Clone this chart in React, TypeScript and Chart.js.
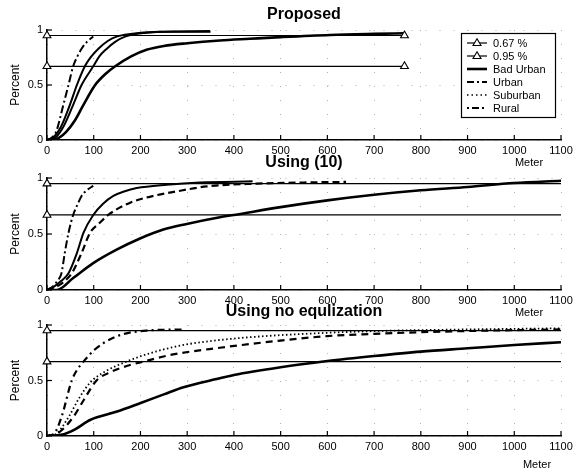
import React, { useEffect, useRef } from "react";
import { Chart, registerables } from "chart.js";

Chart.register(...registerables);

const FONT = "'Liberation Sans', Arial, Helvetica, sans-serif";

// ---------- text / ticks ----------
const X_TICKS = [0, 100, 200, 300, 400, 500, 600, 700, 800, 900, 1000, 1100];
const Y_TICKS = [0, 0.5, 1];
const X_LABEL = "Meter";
const Y_LABEL = "Percent";
const SERIES_NAMES = ["0.67 %", "0.95 %", "Bad Urban", "Urban", "Suburban", "Rural"];
const PANEL_TITLES = ["Proposed", "Using (10)", "Using no equlization"];

// ---------- reference levels ----------
const LEVELS = [0.67, 0.95];
const LEVEL_END_M = [765, 1100, 1100];

// ---------- Proposed ----------
const P_BAD_URBAN_M = [0, 20, 40, 60, 78, 103, 125, 146, 180, 213, 250, 300, 370, 434, 500, 606, 700, 765];
const P_BAD_URBAN_P = [0, 0.01, 0.07, 0.18, 0.32, 0.5, 0.6, 0.67, 0.76, 0.82, 0.855, 0.88, 0.905, 0.92, 0.935, 0.955, 0.965, 0.97];
const P_URBAN_M = [0, 20, 35, 56, 74, 99, 112, 128, 145, 167, 213, 260, 350];
const P_URBAN_P = [0, 0.03, 0.12, 0.32, 0.5, 0.67, 0.76, 0.83, 0.89, 0.94, 0.975, 0.985, 0.985];
const P_SUBURBAN_M = [0, 15, 30, 49, 64, 81, 95, 110, 130, 149, 200, 250, 349];
const P_SUBURBAN_P = [0, 0.03, 0.12, 0.32, 0.5, 0.67, 0.76, 0.83, 0.9, 0.94, 0.975, 0.985, 0.99];
const P_RURAL_M = [0, 10, 20, 35, 46, 56, 65, 74, 85, 99];
const P_RURAL_P = [0, 0.02, 0.08, 0.32, 0.5, 0.67, 0.76, 0.83, 0.89, 0.94];

// ---------- Using (10) ----------
const U_BAD_URBAN_M = [0, 21, 56, 99, 149, 199, 249, 299, 370, 400, 500, 600, 700, 800, 900, 1000, 1100];
const U_BAD_URBAN_P = [0, 0, 0.107, 0.24, 0.36, 0.46, 0.54, 0.59, 0.65, 0.67, 0.74, 0.8, 0.85, 0.89, 0.92, 0.955, 0.975];
const U_URBAN_M = [0, 20, 35, 53, 74, 92, 113, 131, 178, 228, 277, 342, 450, 550, 640];
const U_URBAN_P = [0, 0.03, 0.07, 0.15, 0.33, 0.51, 0.6, 0.67, 0.78, 0.84, 0.88, 0.925, 0.95, 0.96, 0.965];
const U_SUBURBAN_M = [0, 15, 30, 46, 64, 78, 99, 120, 142, 165, 192, 256, 327, 440];
const U_SUBURBAN_P = [0, 0.03, 0.08, 0.15, 0.33, 0.51, 0.67, 0.77, 0.84, 0.88, 0.91, 0.94, 0.96, 0.97];
const U_RURAL_M = [0, 12, 22, 31, 38, 46, 56, 65, 74, 85, 99];
const U_RURAL_P = [0, 0.03, 0.08, 0.15, 0.33, 0.51, 0.67, 0.76, 0.84, 0.89, 0.93];

// ---------- Using no equlization ----------
const N_BAD_URBAN_M = [0, 30, 60, 92, 150, 199, 250, 292, 370, 400, 500, 600, 700, 800, 900, 1000, 1100];
const N_BAD_URBAN_P = [0, 0.01, 0.06, 0.144, 0.22, 0.295, 0.375, 0.44, 0.52, 0.55, 0.62, 0.675, 0.72, 0.76, 0.79, 0.82, 0.845];
const N_URBAN_M = [0, 25, 56, 78, 106, 138, 170, 206, 270, 370, 500, 600, 700, 800, 950, 1100];
const N_URBAN_P = [0, 0.03, 0.17, 0.32, 0.5, 0.58, 0.63, 0.67, 0.735, 0.795, 0.86, 0.9, 0.92, 0.935, 0.95, 0.96];
const N_SUBURBAN_M = [0, 20, 46, 70, 92, 124, 170, 220, 292, 370, 450, 550, 700, 900, 1100];
const N_SUBURBAN_P = [0, 0.02, 0.17, 0.35, 0.48, 0.58, 0.67, 0.745, 0.82, 0.865, 0.895, 0.92, 0.945, 0.96, 0.97];
const N_RURAL_M = [0, 15, 31, 53, 65, 78, 100, 120, 145, 170, 213, 292];
const N_RURAL_P = [0, 0.02, 0.17, 0.5, 0.6, 0.67, 0.77, 0.835, 0.89, 0.925, 0.95, 0.96];

// ---------- panel assembly ----------
const PANEL_CURVES = [
  [[P_BAD_URBAN_M, P_BAD_URBAN_P], [P_URBAN_M, P_URBAN_P], [P_SUBURBAN_M, P_SUBURBAN_P], [P_RURAL_M, P_RURAL_P]],
  [[U_BAD_URBAN_M, U_BAD_URBAN_P], [U_URBAN_M, U_URBAN_P], [U_SUBURBAN_M, U_SUBURBAN_P], [U_RURAL_M, U_RURAL_P]],
  [[N_BAD_URBAN_M, N_BAD_URBAN_P], [N_URBAN_M, N_URBAN_P], [N_SUBURBAN_M, N_SUBURBAN_P], [N_RURAL_M, N_RURAL_P]],
];

// layout (pixels)
const PANEL_LAYOUT = [
  { top: 30, bottom: 140, titleY: 15, meterX: 529, meterY: 163, endMarker: true },
  { top: 178, bottom: 290, titleY: 163, meterX: 529, meterY: 313, endMarker: false },
  { top: 325, bottom: 436, titleY: 312, meterX: 537, meterY: 465, endMarker: false },
];
const PLOT_LEFT = 47;
const PLOT_RIGHT = 561;
const W = 582;
const H = 472;
const XAXIS_H = 20;

// line styles: [width, dash] for Bad Urban, Urban, Suburban, Rural
const LEGEND_STYLE = [
  [2.6, []],
  [2, [7, 3, 2, 3]],
  [1.6, [1.5, 3]],
  [2, [2, 3, 7, 3]],
];
const PANEL_STYLE = [
  [[2.6, []], [2, []], [2, []], [2, [8, 3, 2, 3]]],
  [[2.6, []], [2.2, [7, 4]], [2, []], [2, [8, 3, 2, 3]]],
  [[2.6, []], [2.2, [7, 5]], [1.8, [1.5, 2.5]], [2.2, [7, 4, 2, 4]]],
];

function buildDatasets(i: number) {
  const layout = PANEL_LAYOUT[i];
  const ds: any[] = LEVELS.map((lv, k) => ({
    label: SERIES_NAMES[k],
    data: [
      { x: 0, y: lv },
      { x: LEVEL_END_M[i], y: lv },
    ],
    borderColor: "#000",
    borderWidth: 1.2,
    pointStyle: "triangle",
    pointRadius: layout.endMarker ? [4.5, 4.5] : [4.5, 0],
    pointBackgroundColor: "#fff",
    pointBorderColor: "#000",
    pointBorderWidth: 1.1,
    clip: false,
  }));
  PANEL_CURVES[i].forEach(([xs, ys], k) => {
    const [w, dash] = PANEL_STYLE[i][k];
    ds.push({
      label: SERIES_NAMES[k + 2],
      data: xs.map((x, j) => ({ x, y: ys[j] })),
      borderColor: "#000",
      borderWidth: w,
      borderDash: dash,
      pointRadius: 0,
      cubicInterpolationMode: "monotone",
      fill: false,
    });
  });
  return ds;
}

function drawTriangle(ctx: CanvasRenderingContext2D, x: number, y: number, r: number) {
  ctx.beginPath();
  ctx.moveTo(x, y - r);
  ctx.lineTo(x + r * 0.95, y + r * 0.6);
  ctx.lineTo(x - r * 0.95, y + r * 0.6);
  ctx.closePath();
  ctx.fillStyle = "#fff";
  ctx.fill();
  ctx.stroke();
}

function decorPlugin(i: number) {
  return {
    id: "decor" + i,
    afterDraw(chart: any) {
      const { ctx, chartArea, scales } = chart;
      const layout = PANEL_LAYOUT[i];
      ctx.save();
      ctx.setLineDash([]);
      ctx.strokeStyle = "#000";
      ctx.lineWidth = 1.2;
      // inward tick marks
      X_TICKS.forEach((v) => {
        const x = scales.x.getPixelForValue(v);
        ctx.beginPath();
        ctx.moveTo(x, chartArea.bottom);
        ctx.lineTo(x, chartArea.bottom - 5);
        ctx.stroke();
      });
      Y_TICKS.forEach((v) => {
        const y = scales.y.getPixelForValue(v);
        ctx.beginPath();
        ctx.moveTo(chartArea.left, y);
        ctx.lineTo(chartArea.left + 5, y);
        ctx.stroke();
      });
      ctx.fillStyle = "#000";
      // title
      ctx.font = `bold 16px ${FONT}`;
      ctx.textAlign = "center";
      ctx.textBaseline = "middle";
      ctx.fillText(PANEL_TITLES[i], (chartArea.left + chartArea.right) / 2, layout.titleY);
      // x label
      ctx.font = `11px ${FONT}`;
      ctx.fillText(X_LABEL, layout.meterX, layout.meterY);
      // y label
      ctx.save();
      ctx.translate(15.5, (chartArea.top + chartArea.bottom) / 2);
      ctx.rotate(-Math.PI / 2);
      ctx.font = `12px ${FONT}`;
      ctx.fillText(Y_LABEL, 0, 0);
      ctx.restore();

      if (i === 0) {
        // legend box
        const bx = 461, by = 33, bw = 94, bh = 84;
        ctx.fillStyle = "#fff";
        ctx.fillRect(bx, by, bw, bh);
        ctx.strokeStyle = "#000";
        ctx.lineWidth = 1.2;
        ctx.strokeRect(bx + 0.5, by + 0.5, bw, bh);
        const rows = [43, 56, 69, 82, 95, 108];
        SERIES_NAMES.forEach((name, k) => {
          const y = rows[k];
          ctx.save();
          if (k < 2) {
            ctx.lineWidth = 1.2;
            ctx.setLineDash([]);
            ctx.beginPath();
            ctx.moveTo(467, y);
            ctx.lineTo(487, y);
            ctx.stroke();
            ctx.lineWidth = 1.1;
            drawTriangle(ctx, 477, y, 4.2);
          } else {
            const [w, dash] = LEGEND_STYLE[k - 2];
            ctx.lineWidth = w as number;
            ctx.setLineDash(dash as number[]);
            ctx.beginPath();
            ctx.moveTo(467, y);
            ctx.lineTo(487, y);
            ctx.stroke();
          }
          ctx.restore();
          ctx.fillStyle = "#000";
          ctx.font = `11px ${FONT}`;
          ctx.textAlign = "left";
          ctx.textBaseline = "middle";
          ctx.fillText(name, 493, y + 0.5);
        });
      }
      ctx.restore();
    },
  };
}

function buildConfig(i: number): any {
  const layout = PANEL_LAYOUT[i];
  return {
    type: "line",
    data: { datasets: buildDatasets(i) },
    plugins: [decorPlugin(i)],
    options: {
      responsive: false,
      animation: false,
      events: [],
      layout: {
        padding: {
          left: 0,
          right: W - PLOT_RIGHT,
          top: layout.top,
          bottom: H - layout.bottom - XAXIS_H,
        },
      },
      plugins: {
        legend: { display: false },
        title: { display: false },
        tooltip: { enabled: false },
      },
      scales: {
        x: {
          type: "linear",
          min: 0,
          max: 1100,
          afterFit: (s: any) => {
            s.height = XAXIS_H;
          },
          afterBuildTicks: (s: any) => {
            s.ticks = X_TICKS.map((v) => ({ value: v }));
          },
          ticks: {
            autoSkip: false,
            maxRotation: 0,
            padding: 4,
            color: "#000",
            font: { family: FONT, size: 11 },
            callback: (v: number) => String(v),
          },
          grid: {
            drawTicks: false,
            color: "#b0b0b0",
            lineWidth: 1,
          },
          border: { display: true, color: "#000", width: 1.5, dash: [1, 13] },
        },
        y: {
          type: "linear",
          min: 0,
          max: 1,
          afterFit: (s: any) => {
            s.width = PLOT_LEFT;
          },
          afterBuildTicks: (s: any) => {
            s.ticks = Y_TICKS.map((v) => ({ value: v }));
          },
          ticks: {
            padding: 4,
            color: "#000",
            font: { family: FONT, size: 11 },
            callback: (v: number) => String(v),
          },
          grid: {
            drawTicks: false,
            color: "#b0b0b0",
            lineWidth: 1,
          },
          border: { display: true, color: "#000", width: 1.5, dash: [1, 13] },
        },
      },
    },
  };
}

export default function App() {
  const r0 = useRef<HTMLCanvasElement>(null);
  const r1 = useRef<HTMLCanvasElement>(null);
  const r2 = useRef<HTMLCanvasElement>(null);
  useEffect(() => {
    const refs = [r0, r1, r2];
    const charts = refs.map((r, i) => new Chart(r.current as HTMLCanvasElement, buildConfig(i)));
    return () => charts.forEach((c) => c.destroy());
  }, []);
  const cs: React.CSSProperties = { position: "absolute", left: 0, top: 0 };
  return (
    <div style={{ position: "absolute", left: 0, top: 0, width: W, height: H, background: "#fff" }}>
      <canvas ref={r0} width={W} height={H} style={cs} />
      <canvas ref={r1} width={W} height={H} style={cs} />
      <canvas ref={r2} width={W} height={H} style={cs} />
    </div>
  );
}
